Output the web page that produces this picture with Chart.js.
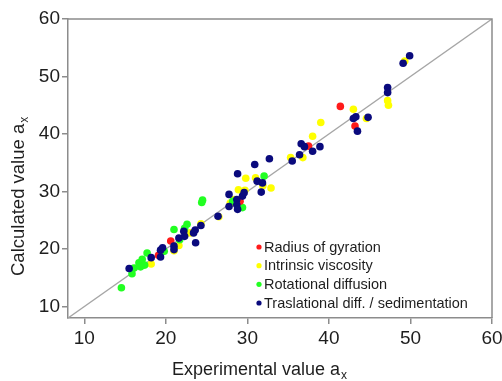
<!DOCTYPE html>
<html>
<head>
<meta charset="utf-8">
<script src="https://cdn.jsdelivr.net/npm/chart.js@4/dist/chart.umd.min.js"></script>
<style>
  html, body { margin: 0; padding: 0; background: #fff; }
  #wrap { width: 502px; height: 381px; }
</style>
</head>
<body>
<div id="wrap"><canvas id="c" width="502" height="381"></canvas></div>
<script>
// valores (experimental, calculado)
const redX = [41.4, 43.2, 37.5, 20.6, 29.1, 19.1];
const redY = [44.8, 41.4, 37.9, 21.4, 28.3, 18.9];

const yellowX = [43.0, 47.2, 47.3, 39.0, 38.0, 44.6, 36.8, 35.3, 49.3, 29.8, 31.0, 32.9,
  28.9, 29.7, 28.4, 27.9, 24.3, 23.0, 21.6, 21.0, 18.2, 26.5, 31.9];
const yellowY = [44.3, 45.8, 45.0, 42.0, 39.6, 42.7, 35.9, 35.9, 52.7, 32.3, 32.4, 30.6,
  30.3, 30.2, 28.6, 28.0, 24.4, 22.8, 20.6, 19.7, 17.4, 25.6, 31.0];

const greenX = [14.55, 15.85, 16.1, 16.7, 17.1, 17.4, 17.7, 16.9, 19.8, 21.0, 22.6, 21.7,
  24.4, 24.5, 32.05, 29.4, 28.2, 22.3];
const greenY = [13.25, 15.7, 16.7, 17.6, 18.2, 17.2, 19.3, 16.9, 19.6, 23.4, 24.3, 21.6,
  28.1, 28.5, 32.7, 27.2, 28.3, 23.6];

const blueX = [15.5, 18.2, 19.35, 19.35, 19.6, 21.0, 21.0, 21.6, 22.2, 22.3, 23.4, 23.6,
  23.65, 24.3, 26.4, 27.75, 27.75, 28.8, 28.7, 28.7, 28.8, 29.4, 29.6, 30.9, 32.7, 31.2,
  31.85, 31.7, 35.5, 36.4, 36.6, 37.0, 38.0, 38.9, 43.0, 43.3, 43.5, 44.8, 47.2, 47.2,
  49.1, 49.9];
const blueY = [16.6, 18.5, 18.6, 19.8, 20.2, 20.5, 19.9, 21.9, 23.1, 22.2, 22.8, 23.3,
  21.1, 24.1, 25.7, 29.5, 27.4, 33.1, 28.6, 27.7, 26.9, 29.2, 29.8, 34.7, 35.7, 31.8,
  31.5, 29.9, 35.3, 36.4, 38.3, 37.8, 37.0, 37.8, 42.7, 43.0, 40.5, 42.9, 48.1, 47.2,
  52.3, 53.6];

// linea y = x
const diagX = [8, 60];
const diagY = [8, 60];

const xTicks = [10, 20, 30, 40, 50, 60];
const yTicks = [10, 20, 30, 40, 50, 60];

const seriesLabels = ['Radius of gyration', 'Intrinsic viscosity', 'Rotational diffusion',
  'Traslational diff. / sedimentation'];

const FONT = "'Liberation Sans', Arial, sans-serif";
const frameColor = '#8c8c8c';
const textColor = '#1e1e1e';

function pts(xs, ys) {
  return xs.map((x, i) => ({ x: x, y: ys[i] }));
}

function scatterSet(label, xs, ys, color, order) {
  return {
    type: 'scatter',
    label: label,
    data: pts(xs, ys),
    backgroundColor: color,
    borderWidth: 0,
    pointRadius: 3.8,
    pointHoverRadius: 3.8,
    order: order,
  };
}

// titulos de ejes con subindice y leyenda dentro del area
function drawSub(ctx, main, sub, x, y, size) {
  ctx.font = size + 'px ' + FONT;
  ctx.fillText(main, x, y);
  const w = ctx.measureText(main).width;
  ctx.font = Math.round(size * 0.65) + 'px ' + FONT;
  ctx.fillText(sub, x + w + 1, y + 4);
}

const overlay = {
  id: 'overlay',
  afterDraw(chart) {
    const ctx = chart.ctx;
    const a = chart.chartArea;
    ctx.save();
    ctx.strokeStyle = frameColor;
    ctx.lineWidth = 1.5;
    ctx.beginPath();
    ctx.moveTo(a.left, a.top);
    ctx.lineTo(a.right, a.top);
    ctx.lineTo(a.right, a.bottom);
    ctx.stroke();

    ctx.fillStyle = textColor;
    ctx.textAlign = 'left';
    ctx.textBaseline = 'alphabetic';
    drawSub(ctx, 'Experimental value a', 'x', 172, 375, 18);

    ctx.save();
    ctx.translate(24, 276);
    ctx.rotate(-Math.PI / 2);
    drawSub(ctx, 'Calculated value a', 'x', 0, 0, 18.5);
    ctx.restore();

    // leyenda
    const rows = [247, 265.7, 284.3, 303];
    ctx.font = '14.5px ' + FONT;
    ctx.textBaseline = 'middle';
    chart.data.datasets.slice(0, 4).forEach((ds, i) => {
      ctx.fillStyle = ds.backgroundColor;
      ctx.beginPath();
      ctx.arc(259, rows[i], 2.6, 0, Math.PI * 2);
      ctx.fill();
      ctx.fillStyle = textColor;
      ctx.fillText(ds.label, 264, rows[i] + 0.5);
    });
    ctx.restore();
  }
};

new Chart(document.getElementById('c'), {
  data: {
    datasets: [
      scatterSet(seriesLabels[0], redX, redY, '#ff1a1a', 1),
      scatterSet(seriesLabels[1], yellowX, yellowY, '#ffff00', 3),
      scatterSet(seriesLabels[2], greenX, greenY, '#22ff22', 2),
      scatterSet(seriesLabels[3], blueX, blueY, '#0a0a7d', 0),
      {
        type: 'line',
        label: 'y = x',
        data: pts(diagX, diagY),
        borderColor: '#a6a6a6',
        borderWidth: 1.4,
        pointRadius: 0,
        fill: false,
        order: 10,
      },
    ],
  },
  options: {
    responsive: false,
    animation: false,
    layout: { padding: { top: 19, right: 10, left: 0, bottom: 0 } },
    plugins: {
      legend: { display: false },
      tooltip: { enabled: false },
    },
    scales: {
      x: {
        type: 'linear',
        position: 'bottom',
        min: 8,
        max: 60,
        afterBuildTicks: s => { s.ticks = xTicks.map(v => ({ value: v })); },
        afterFit: s => { s.height = 63; s.paddingRight = 0; s.paddingLeft = 0; },
        ticks: { font: { family: FONT, size: 19 }, color: textColor, padding: 3 },
        grid: { drawOnChartArea: false, tickLength: 6, color: frameColor, lineWidth: 1.5 },
        border: { color: frameColor, width: 1.5 },
      },
      y: {
        type: 'linear',
        position: 'left',
        min: 8,
        max: 60,
        afterBuildTicks: s => { s.ticks = yTicks.map(v => ({ value: v })); },
        afterFit: s => { s.width = 68; s.paddingTop = 0; s.paddingBottom = 0; },
        ticks: { font: { family: FONT, size: 19 }, color: textColor, padding: 2 },
        grid: { drawOnChartArea: false, tickLength: 6, color: frameColor, lineWidth: 1.5 },
        border: { color: frameColor, width: 1.5 },
      },
    },
  },
  plugins: [overlay],
});
</script>
</body>
</html>
